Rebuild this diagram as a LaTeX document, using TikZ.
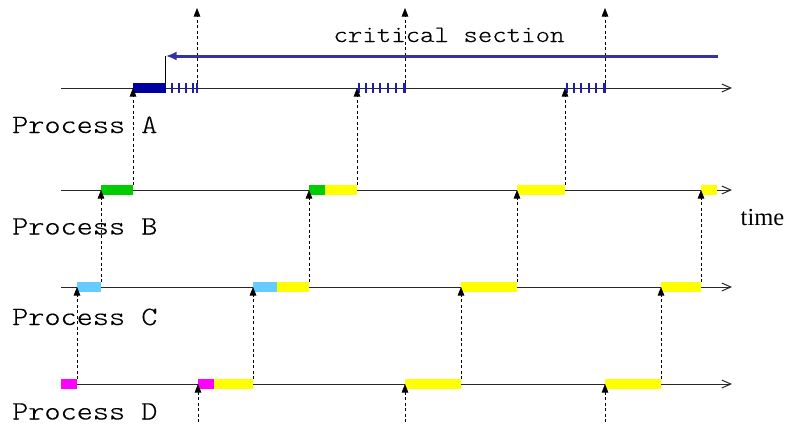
\documentclass[tikz,border=0pt]{standalone}
\usepackage{fontspec}
\newfontfamily\procfont[FakeStretch=1.16,FakeBold=0.25]{lmmonolt10-regular.otf}
\newfontfamily\csfont[FakeStretch=1.17,FakeBold=0.25]{lmmonolt10-regular.otf}
\newfontfamily\serifface{Liberation Serif}
\usetikzlibrary{arrows.meta}

\definecolor{csnavy}{RGB}{0,0,160}
\definecolor{csstripe}{RGB}{30,30,170}
\definecolor{csarrow}{RGB}{52,52,160}
\definecolor{tokgreen}{RGB}{0,204,0}
\definecolor{tokyellow}{RGB}{255,255,0}
\definecolor{toksky}{RGB}{102,204,255}
\definecolor{tokmagenta}{RGB}{255,0,255}
\definecolor{axisgray}{RGB}{40,40,40}

\tikzset{
  timeline/.style={draw=axisgray, line width=1pt, -{Straight Barb[length=9pt,width=8pt]}},
  signal/.style={draw=black, line width=0.8pt, dash pattern=on 3pt off 2.5pt,
                 -{Triangle[length=8.5pt,width=6.5pt]}, shorten <=5pt},
  critarrow/.style={draw=csarrow, line width=3pt, -{Latex[length=11pt,width=9pt]}},
  critfoot/.style={draw=black, line width=0.8pt},
  proclabel/.style={anchor=base west, inner sep=0pt, font=\procfont\fontsize{26.5}{26.5}\selectfont},
  cslabel/.style={anchor=base, inner sep=0pt, font=\csfont\fontsize{23.5}{23.5}\selectfont},
  timelabel/.style={anchor=base west, inner sep=0pt, font=\serifface\fontsize{24.5}{24.5}\selectfont}
}

% a coloured slice of a time line: colour, left x, line y, right x
\newcommand\slice[4]{\fill[#1] (#2,#3-5) rectangle (#4,#3+5);}

\begin{document}
\begin{tikzpicture}[x=1pt,y=-1pt]
\useasboundingbox (0,0) rectangle (791,426);

% time lines of the four processes
\foreach \n/\y in {A/88,B/190,C/287,D/384}{
  \coordinate (\n-start) at (61,\y);
  \coordinate (\n-end) at (732,\y);
}
\foreach \n in {A,B,C,D}
  \draw[timeline] (\n-start) -- (\n-end);

% event points on every line
\foreach \n/\y in {a/88,b/190,c/287,d/384,top/8,bot/427}
  \foreach \x in {77,101,133,197,198,253,309,357,405,461,517,565,605,661,701}
    \coordinate (\n\x) at (\x,\y);

% process A: critical section use
\slice{csnavy}{133}{88}{165.7}
\foreach \t/\w in {171/2.3,178/2.3,185/2.3,192/2.3,196/1.7,
                   357.7/2.3,365/2.3,372/2.3,379/2.3,386.5/2.3,394.5/2.3,403/2.7,
                   565.7/2.3,572.5/2.3,580/2.3,587.7/2.3,595/2.3,603.3/2.4}
  \fill[csstripe] (\t,83) rectangle (\t+\w,93);

% process B
\slice{tokgreen}{101}{190}{133}
\slice{tokgreen}{309}{190}{325}
\slice{tokyellow}{325}{190}{357}
\slice{tokyellow}{517}{190}{565}
\slice{tokyellow}{701}{190}{717}

% process C
\slice{toksky}{77}{287}{101}
\slice{toksky}{253}{287}{277}
\slice{tokyellow}{277}{287}{309}
\slice{tokyellow}{461}{287}{517}
\slice{tokyellow}{661}{287}{701}

% process D
\slice{tokmagenta}{61}{384}{77}
\slice{tokmagenta}{198}{384}{214}
\slice{tokyellow}{214}{384}{253}
\slice{tokyellow}{405}{384}{461}
\slice{tokyellow}{605}{384}{661}

% messages passed between the processes
\foreach \p/\q in {d77/c77, c101/b101, b133/a133, a197/top197,
                   bot198/d198, d253/c253, c309/b309, b357/a357, a405/top405,
                   bot405/d405, d461/c461, c517/b517, b565/a565, a605/top605,
                   bot605/d605, d661/c661, c701/b701}
  \draw[signal] (\p) -- (\q);

% critical section marker
\coordinate (cs-right) at (718,56);
\coordinate (cs-left) at (165.7,56);
\coordinate (cs-foot) at (165.7,83);
\draw[critfoot] (cs-foot) -- (cs-left);
\draw[critarrow] (cs-right) -- (cs-left);
\node[cslabel] (cs-text) at (449,42) {critical section};

% labels
\node[proclabel] (lab-A) at (12,133) {Process A};
\node[proclabel] (lab-B) at (12,234.5) {Process B};
\node[proclabel] (lab-C) at (12,325) {Process C};
\node[proclabel] (lab-D) at (12,419.5) {Process D};
\node[timelabel] (lab-time) at (740.5,225.5) {time};
\end{tikzpicture}
\end{document}
